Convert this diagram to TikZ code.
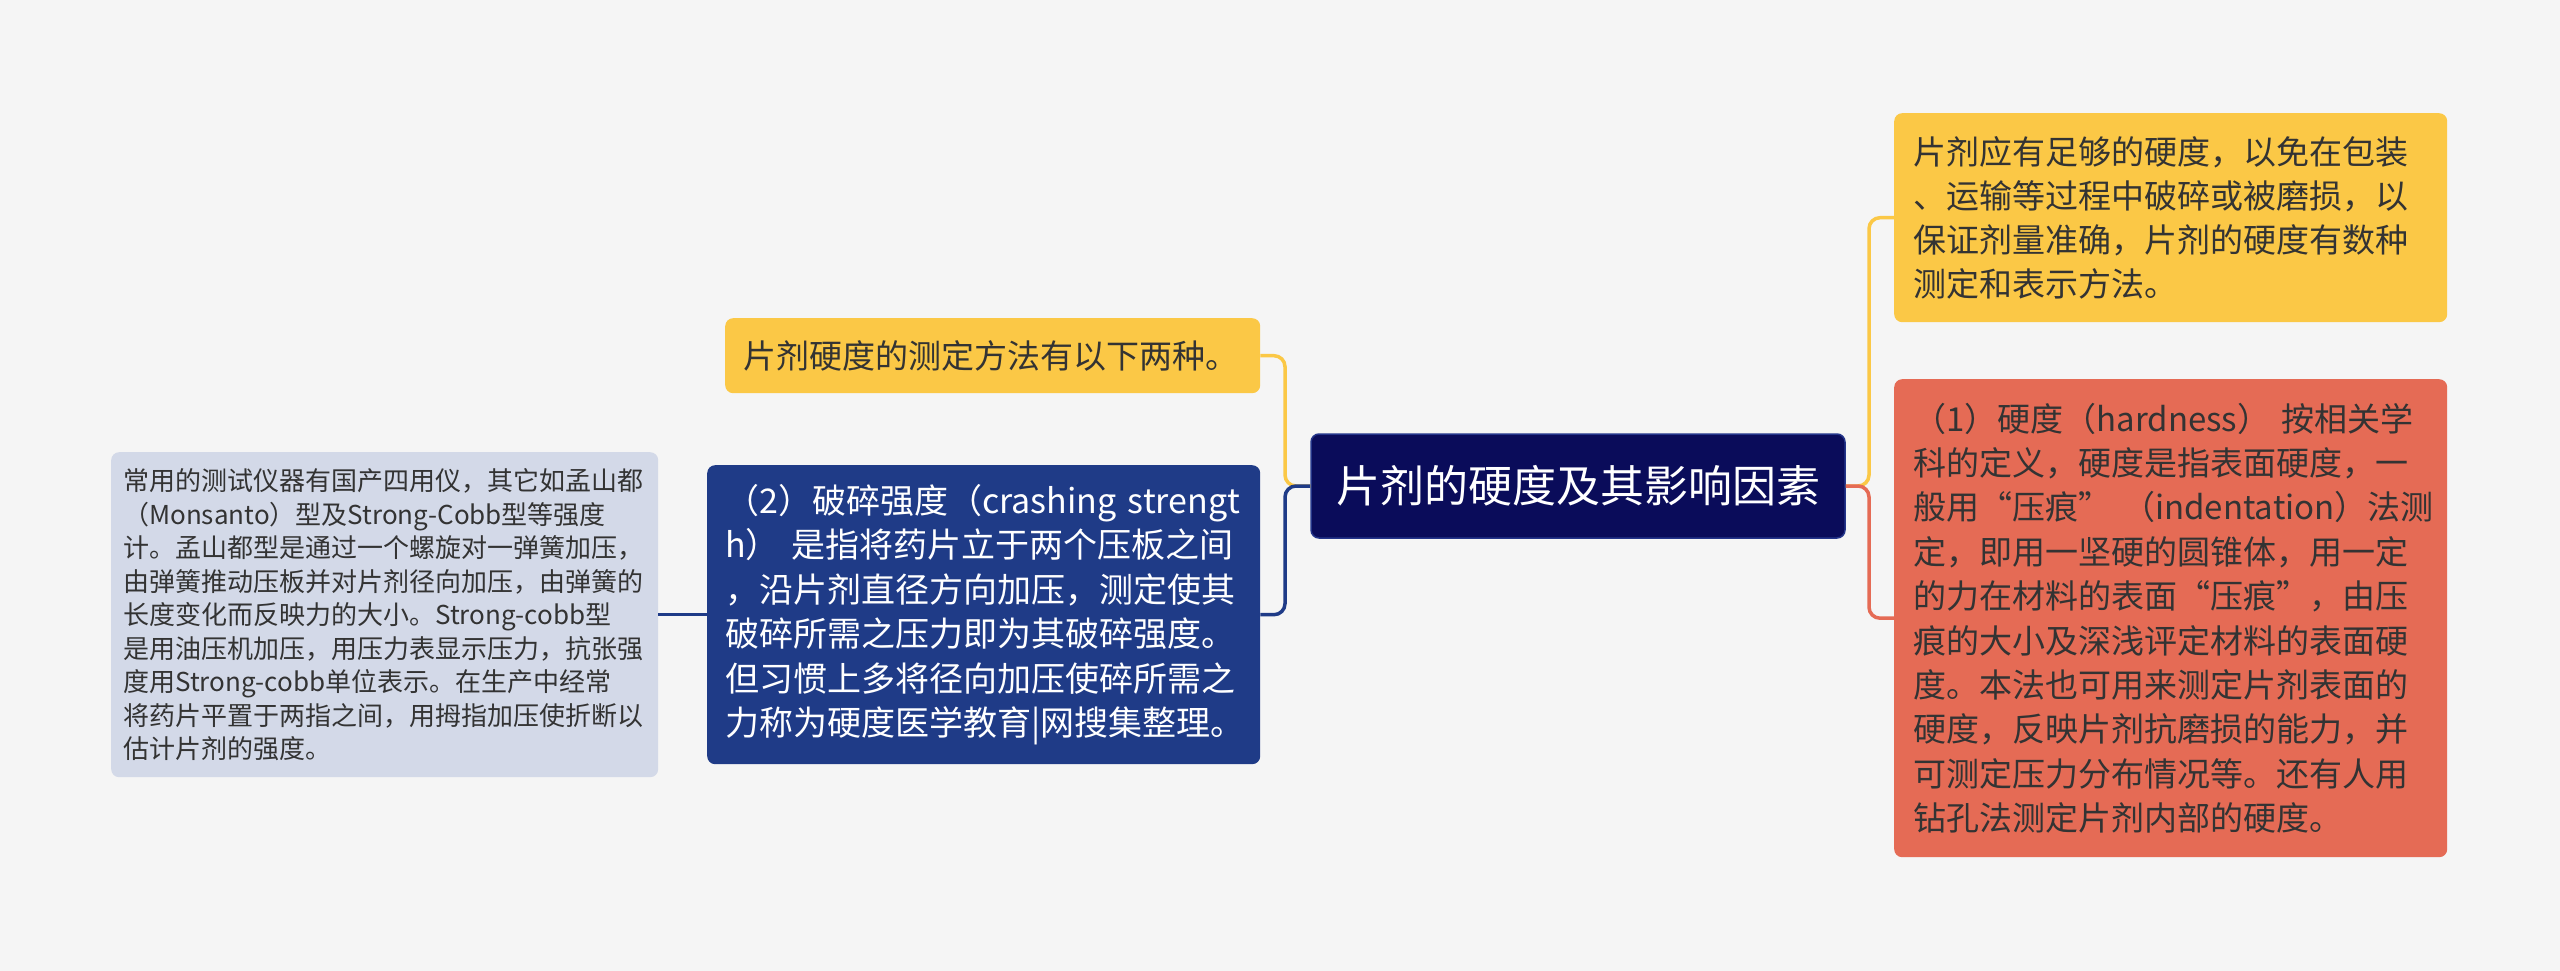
\documentclass[tikz,border=0pt]{standalone}
\usepackage{fontspec}
\setmainfont{Noto Sans CJK SC}
\definecolor{bg}{HTML}{F5F5F5}
\definecolor{yel}{HTML}{FBC846}
\definecolor{redc}{HTML}{E56B55}
\definecolor{bluec}{HTML}{1F3B87}
\definecolor{navy}{HTML}{0A0C5A}
\definecolor{navyedge}{HTML}{24358A}
\definecolor{grayc}{HTML}{D3D9E8}
\definecolor{txt}{HTML}{333333}
\hyphenpenalty=10000
\exhyphenpenalty=10000
\begin{document}
\begin{tikzpicture}[x=1pt,y=-1pt,
  box/.style={rounded corners=8pt, inner ysep=0pt, anchor=north west, align=left},
  yline/.style={draw=yel, line width=3.5pt, rounded corners=11pt},
  rline/.style={draw=redc, line width=3.5pt, rounded corners=11pt},
  bline/.style={draw=bluec, line width=3.5pt, rounded corners=11pt}]
\fill[bg] (0,0) rectangle (2560,971);
\useasboundingbox (0,0) rectangle (2560,971);

% central topic
\node[fill=navy, draw=navyedge, line width=1.5pt, rounded corners=8pt,
      minimum width=534pt, minimum height=104pt, inner sep=0pt, text=white,
      font=\fontsize{44}{50}\selectfont] (c) at (1578,486) {片剂的硬度及其影响因素};

% right side
\node[box, fill=yel, text=txt, minimum height=209pt, text width=515pt, inner xsep=19pt,
      font=\fontsize{33}{44}\selectfont] (y2) at (1894,113)
  {片剂应有足够的硬度，以免在包装\\、运输等过程中破碎或被磨损，以\\保证剂量准确，片剂的硬度有数种\\测定和表示方法。};
\node[box, fill=redc, text=txt, minimum height=478pt, text width=515pt, inner xsep=19pt,
      font=\fontsize{33}{44.4}\selectfont] (r1) at (1894,379)
  {\mbox{（1）硬度（hardness） 按相关学}\\科的定义，硬度是指表面硬度，一\\\mbox{般用“压痕” （indentation）法测}\\定，即用一坚硬的圆锥体，用一定\\的力在材料的表面“压痕”，由压\\痕的大小及深浅评定材料的表面硬\\度。本法也可用来测定片剂表面的\\硬度，反映片剂抗磨损的能力，并\\可测定压力分布情况等。还有人用\\钻孔法测定片剂内部的硬度。};

% left side
\node[box, fill=yel, text=txt, minimum height=75pt, text width=499pt, inner xsep=18pt,
      font=\fontsize{33}{44}\selectfont] (y1) at (725,318)
  {片剂硬度的测定方法有以下两种。};
\node[box, fill=bluec, text=white, minimum height=299pt, text width=517pt, inner xsep=18pt,
      font=\fontsize{34}{44.4}\selectfont] (b2) at (707,465)
  {\mbox{（2）破碎强度（crashing strengt}\\\mbox{h） 是指将药片立于两个压板之间}\\，沿片剂直径方向加压，测定使其\\破碎所需之压力即为其破碎强度。\\但习惯上多将径向加压使碎所需之\\力称为硬度医学教育|网搜集整理。};
\node[box, fill=grayc, text=txt, minimum height=325pt, text width=523pt, inner xsep=12pt,
      font=\fontsize{26}{33.5}\selectfont] (g) at (111,452)
  {常用的测试仪器有国产四用仪，其它如孟山都\\\mbox{（Monsanto）型及Strong-Cobb型等强度}\\计。孟山都型是通过一个螺旋对一弹簧加压，\\由弹簧推动压板并对片剂径向加压，由弹簧的\\\mbox{长度变化而反映力的大小。Strong-cobb型}\\是用油压机加压，用压力表显示压力，抗张强\\\mbox{度用Strong-cobb单位表示。在生产中经常}\\将药片平置于两指之间，用拇指加压使折断以\\估计片剂的强度。};

% connectors
\coordinate (jl) at (1285,486);
\coordinate (jr) at (1869,486);
\draw[yline] (c.west) -- (jl) |- (y1.east);
\draw[bline] (c.west) -- (jl) |- (b2.east);
\draw[bline, rounded corners=0pt] (b2.west) -- (g.east);
\draw[yline] (c.east) -- (jr) |- (y2.west);
\draw[rline] (c.east) -- (jr) |- (r1.west);
\end{tikzpicture}
\end{document}
